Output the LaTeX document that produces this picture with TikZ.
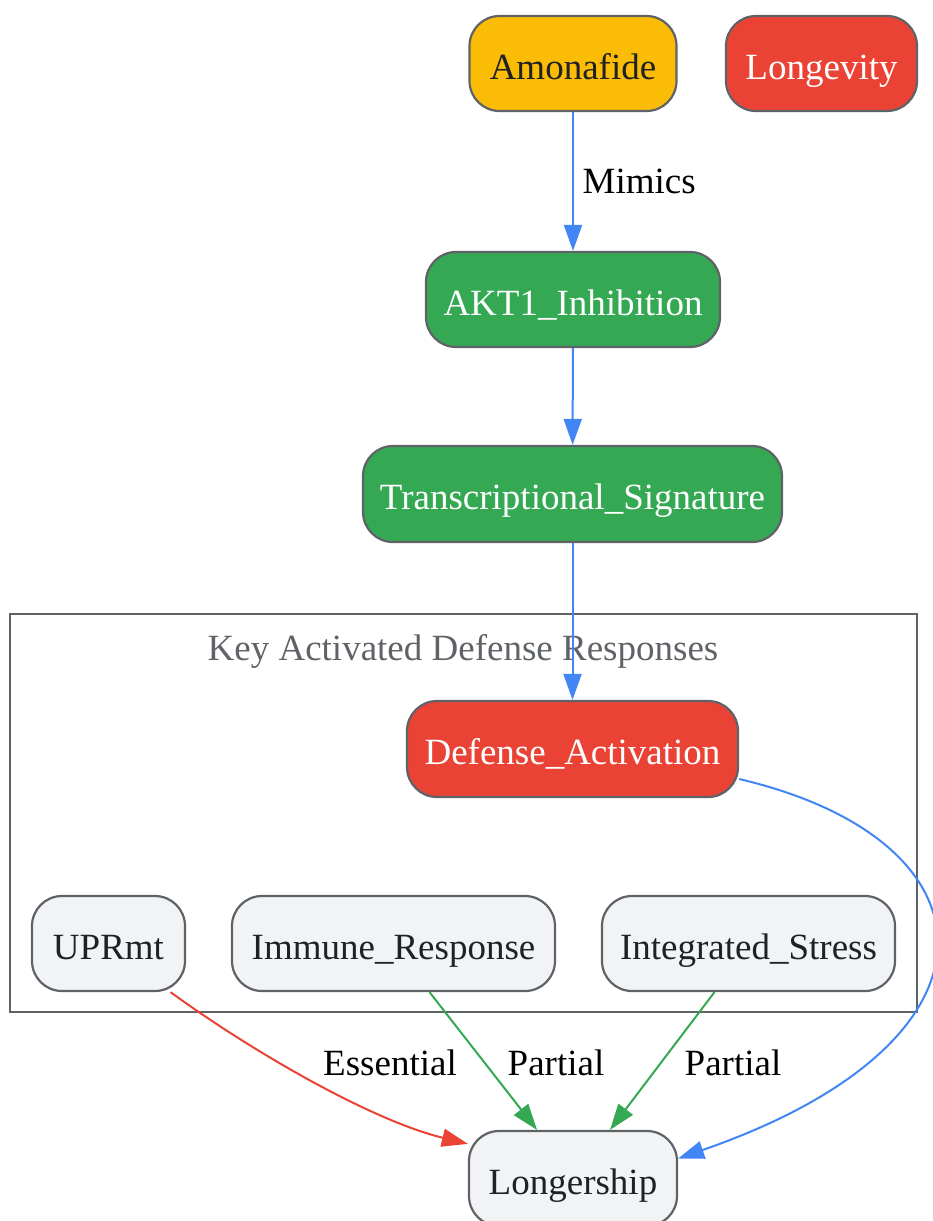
\documentclass[tikz,border=0pt]{standalone}
\usepackage{fontspec}
\setmainfont{Liberation Serif}
\usetikzlibrary{arrows.meta}

\definecolor{gblue}{HTML}{4285F4}
\definecolor{gred}{HTML}{EA4335}
\definecolor{ggreen}{HTML}{34A853}
\definecolor{gyellow}{HTML}{FBBC05}
\definecolor{glight}{HTML}{F1F3F4}
\definecolor{gline}{HTML}{5F6368}
\definecolor{gtext}{HTML}{202124}

\begin{document}
\begin{tikzpicture}[x=0.5pt,y=-0.5pt,
    box/.style={draw=gline,line width=1.1pt,rounded corners=15pt,inner sep=0pt,
      minimum height=47.5pt,text height=15.5pt,text depth=0pt,
      font=\fontsize{18.5}{22}\selectfont},
    link/.style={line width=1pt,-{Triangle[length=13pt,width=9pt]}},
    lbl/.style={font=\fontsize{18.5}{22}\selectfont}]
  \useasboundingbox (0,0) rectangle (932,1221);

  % cluster
  \draw[gline,line width=1pt] (10,614) rectangle (917,1012);
  \node[lbl,text=gline] (title) at (463,651) {Key Activated Defense Responses};

  \node[box,fill=gyellow,text=gtext,minimum width=103.5pt] (amon) at (573,63.5) {Amonafide};
  \node[box,fill=gred,text=white,minimum width=95.5pt] (longev) at (821.5,63.5) {Longevity};
  \node[box,fill=ggreen,text=white,minimum width=147pt] (akt) at (573,299.5) {AKT1\_Inhibition};
  \node[box,fill=ggreen,text=white,minimum width=209.5pt,minimum height=48pt] (trans) at (572.5,494) {Transcriptional\_Signature};
  \node[box,fill=gred,text=white,minimum width=165.5pt,minimum height=48pt] (def) at (572.5,749) {Defense\_Activation};
  \node[box,fill=glight,text=gtext,minimum width=76.5pt] (uprmt) at (108.5,943.5) {UPRmt};
  \node[box,fill=glight,text=gtext,minimum width=161.5pt] (immune) at (393.5,943.5) {Immune\_Response};
  \node[box,fill=glight,text=gtext,minimum width=146.5pt] (integ) at (748.5,943.5) {Integrated\_Stress};
  \node[box,fill=glight,text=gtext,minimum width=104pt] (lship) at (573,1178.5) {Longership};

  \draw[link,gblue] (amon) -- (akt) node[lbl,midway,right=1pt,text=black] (mimics) {Mimics};
  \draw[link,gblue] (akt) -- (trans);
  \draw[link,gblue] (trans) -- (def);
  \draw[link,gblue] ([yshift=-15pt]def.east) .. controls (1000,840) and (1020,1040) .. ([yshift=10pt]lship.east);

  \draw[link,gred] ([xshift=31pt]uprmt.south) .. controls (250,1050) and (370,1120) .. ([yshift=-7pt]lship.north west);
  \draw[link,ggreen] ([xshift=18pt]immune.south) -- ([xshift=-18pt]lship.north);
  \draw[link,ggreen] ([xshift=-17pt]integ.south) -- ([xshift=18.5pt]lship.north);

  \node[lbl] (ess) at (390,1063) {Essential};
  \node[lbl] (part1) at (556,1063) {Partial};
  \node[lbl] (part2) at (733,1063) {Partial};
\end{tikzpicture}
\end{document}
